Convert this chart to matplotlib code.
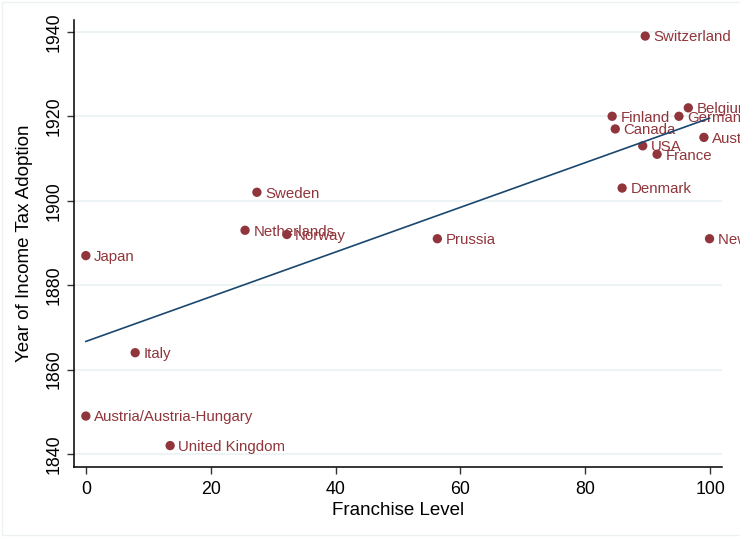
import numpy as np
import matplotlib.pyplot as plt
from matplotlib.patches import Rectangle

plt.rcParams['font.family'] = ['Liberation Sans', 'DejaVu Sans']

countries = ['Switzerland', 'Belgium', 'Germany', 'Finland', 'Canada', 'Australia',
             'USA', 'France', 'Denmark', 'New Zealand', 'Prussia', 'Sweden',
             'Netherlands', 'Norway', 'Japan', 'Italy', 'Austria/Austria-Hungary',
             'United Kingdom']
franchise = [89.6, 96.5, 95.0, 84.3, 84.8, 99.0,
             89.2, 91.5, 85.9, 99.9, 56.3, 27.4,
             25.5, 32.2, 0.0, 7.9, 0.0,
             13.5]
tax_year = [1939, 1922, 1920, 1920, 1917, 1915,
            1913, 1911, 1903, 1891, 1891, 1902,
            1893, 1892, 1887, 1864, 1849,
            1842]

marker_color = '#90353b'
line_color = '#1a476f'

fig = plt.figure(figsize=(7.4, 5.38), dpi=100)
fig.patches.append(Rectangle((2 / 740, 3 / 538), 1.0, 533 / 538, transform=fig.transFigure,
                             fill=False, edgecolor='#eef1f2', linewidth=1.0))

ax = fig.add_axes([0.1, 0.1325, 0.8757, 0.8303])

# fitted line over the observed range
slope, intercept = np.polyfit(franchise, tax_year, 1)
xs = np.array([min(franchise), max(franchise)])
ax.plot(xs, intercept + slope * xs, color=line_color, linewidth=1.2, zorder=4)

ax.scatter(franchise, tax_year, s=45, color=marker_color, edgecolors='none', zorder=3)
for name, x, y in zip(countries, franchise, tax_year):
    ax.annotate(name, (x, y), xytext=(6, -1), textcoords='offset points',
                va='center', ha='left', fontsize=10.8, color=marker_color,
                zorder=2, annotation_clip=False)

ax.set_xlim(-1.9, 101.9)
ax.set_ylim(1837.0, 1942.8)
ax.set_xticks([0, 20, 40, 60, 80, 100])
ax.set_yticks([1840, 1860, 1880, 1900, 1920, 1940])
ax.grid(axis='y', color='#eaf2f3', linewidth=1.2)
ax.set_axisbelow(True)

for side in ['top', 'right']:
    ax.spines[side].set_visible(False)
for side in ['left', 'bottom']:
    ax.spines[side].set_linewidth(1.1)
ax.tick_params(axis='both', labelsize=12.8, length=5, width=1.0, color='#333333',
               labelcolor='black')
ax.tick_params(axis='y', pad=3)
ax.tick_params(axis='x', pad=5)
for lab in ax.get_yticklabels():
    lab.set_rotation(90)
    lab.set_va('center')

ax.set_xlabel('Franchise Level', fontsize=13.5, labelpad=3)
ax.set_ylabel('Year of Income Tax Adoption', fontsize=13.5, labelpad=9)

fig.savefig('out.png', dpi=100)
